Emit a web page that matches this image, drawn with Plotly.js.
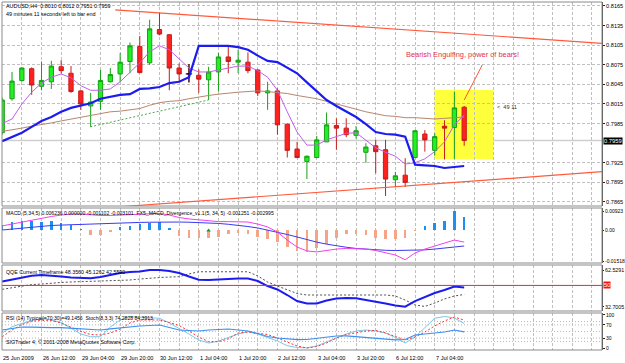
<!DOCTYPE html>
<html><head><meta charset="utf-8">
<script src="https://cdn.plot.ly/plotly-3.0.1.min.js"></script>
<style>html,body{margin:0;padding:0;background:#fff;}#chart{width:625px;height:363px;}</style>
</head><body><div id="chart"></div>
<script>
// ---------- DATA ----------
const openP  = [0.7971,0.8023,0.8051,0.8069,0.8042,0.8049,0.8072,0.8062,0.8035,0.8012,0.8019,0.8049,0.8061,0.8080,0.8103,0.8078,0.8129,0.8121,0.8070,0.8061,0.8059,0.8052,0.8064,0.8087,0.8079,0.8079,0.8067,0.8032,0.8035,0.7984,0.7946,0.7927,0.7933,0.7957,0.7982,0.7978,0.7967,0.7941,0.7951,0.7945,0.7899,0.7906,0.7933,0.7969,0.7944,0.7981,0.7979,0.8010];
const highP  = [0.8025,0.8064,0.8071,0.8071,0.8080,0.8081,0.8082,0.8073,0.8036,0.8032,0.8067,0.8070,0.8093,0.8109,0.8119,0.8144,0.8155,0.8122,0.8077,0.8076,0.8068,0.8072,0.8093,0.8103,0.8098,0.8094,0.8068,0.8049,0.8039,0.7985,0.7957,0.7936,0.7966,0.8002,0.7993,0.7993,0.7981,0.7955,0.7960,0.7960,0.7911,0.7932,0.7975,0.7975,0.7970,0.7990,0.8034,0.8012];
const lowP   = [0.7968,0.8020,0.8049,0.8029,0.8036,0.8038,0.8062,0.8032,0.8006,0.7980,0.8006,0.8048,0.8049,0.8062,0.8062,0.8075,0.8120,0.8036,0.8049,0.8048,0.8032,0.8021,0.8034,0.8062,0.8062,0.8062,0.8027,0.8006,0.7968,0.7933,0.7932,0.7900,0.7933,0.7957,0.7945,0.7964,0.7962,0.7925,0.7909,0.7874,0.7888,0.7888,0.7932,0.7942,0.7936,0.7930,0.7931,0.7951];
const closeP = [0.8021,0.8050,0.8070,0.8044,0.8051,0.8073,0.8066,0.8034,0.8015,0.8018,0.8051,0.8060,0.8079,0.8104,0.8063,0.8130,0.8122,0.8070,0.8061,0.8061,0.8053,0.8064,0.8087,0.8080,0.8082,0.8066,0.8032,0.8035,0.7983,0.7944,0.7933,0.7935,0.7960,0.7983,0.7978,0.7968,0.7974,0.7949,0.7942,0.7900,0.7905,0.7895,0.7974,0.7960,0.7965,0.7978,0.8009,0.7959];

const blueLine  = [0.7958,0.7964,0.7971,0.7980,0.7989,0.7995,0.8003,0.8009,0.8013,0.8016,0.8023,0.8026,0.8029,0.8030,0.8038,0.8039,0.8041,0.8047,0.8049,0.8056,0.8104,0.8104,0.8104,0.8104,0.8102,0.8098,0.8089,0.8081,0.8079,0.8070,0.8062,0.8048,0.8035,0.8021,0.8012,0.8004,0.7995,0.7984,0.7972,0.7969,0.7968,0.7965,0.7922,0.7921,0.7920,0.7917,0.7918,0.7920];
const fastMA    = [0.7985,0.7992,0.8015,0.8033,0.8047,0.8056,0.8061,0.8055,0.8043,0.8036,0.8036,0.8038,0.8049,0.8064,0.8078,0.8095,0.8104,0.8098,0.8084,0.8070,0.8064,0.8064,0.8067,0.8070,0.8073,0.8073,0.8066,0.8056,0.8036,0.8003,0.7972,0.7952,0.7952,0.7960,0.7965,0.7970,0.7971,0.7960,0.7948,0.7941,0.7935,0.7923,0.7925,0.7931,0.7942,0.7957,0.7983,0.7998];
const slowMA    = [0.7973,0.7975,0.7978,0.7981,0.7983,0.7986,0.7989,0.7992,0.7995,0.7998,0.8001,0.8003,0.8004,0.8006,0.8008,0.8013,0.8017,0.8019,0.8020,0.8023,0.8026,0.8028,0.8030,0.8032,0.8033,0.8034,0.8035,0.8034,0.8033,0.8031,0.8028,0.8026,0.8023,0.8019,0.8015,0.8010,0.8006,0.8003,0.8000,0.7997,0.7996,0.7994,0.7994,0.7993,0.7992,0.7993,0.7994,0.7995];

const macdHist   = [0.0025,0.0040,0.0042,0.0045,0.0040,0.0045,0.0035,0.0025,0.0005,-0.0022,-0.0022,-0.0008,0.0015,0.0020,0.0030,0.0035,0.0040,0.0012,-0.0030,-0.0040,-0.0040,-0.0040,-0.0035,-0.0020,-0.0014,-0.0020,-0.0035,-0.0045,-0.0060,-0.0085,-0.0100,-0.0105,-0.0088,-0.0068,-0.0040,-0.0020,-0.0020,-0.0025,-0.0038,-0.0042,-0.0042,-0.0038,-0.0005,0.0018,0.0033,0.0042,0.0092,0.0062];
const macdPink   = [0.0020,0.0029,0.0039,0.0049,0.0059,0.0066,0.0073,0.0078,0.0078,0.0073,0.0071,0.0071,0.0073,0.0076,0.0078,0.0081,0.0081,0.0073,0.0061,0.0054,0.0049,0.0044,0.0041,0.0041,0.0041,0.0039,0.0029,0.0015,-0.0010,-0.0049,-0.0083,-0.0102,-0.0107,-0.0100,-0.0093,-0.0090,-0.0090,-0.0093,-0.0100,-0.0110,-0.0122,-0.0145,-0.0112,-0.0093,-0.0078,-0.0066,-0.0049,-0.0059];
const macdBlue   = [0,0.0005,0.0010,0.0015,0.0020,0.0022,0.0024,0.0026,0.0027,0.0028,0.0029,0.0031,0.0034,0.0036,0.0037,0.0038,0.0039,0.0039,0.0039,0.0038,0.0037,0.0035,0.0032,0.0028,0.0024,0.0017,0.0010,0.0000,-0.0010,-0.0022,-0.0034,-0.0047,-0.0059,-0.0069,-0.0078,-0.0084,-0.0090,-0.0094,-0.0098,-0.0099,-0.0100,-0.0100,-0.0100,-0.0097,-0.0093,-0.0088,-0.0083,-0.0078];
const divergenceBars = [21];
const divergenceVals = [-0.0003];

const qqeFast = [53.2,54.8,56.4,57.8,58.5,58.1,57.2,56.4,55.9,55.8,56.8,58.5,60.1,60.9,61.3,62.5,62.5,61.7,60.1,57.2,54.6,54.4,54.9,55.2,55.6,55.6,53.6,49.5,46.7,42.2,37.3,35.3,35.3,37.7,39.4,39.8,39.6,38.1,36.9,35.3,33.7,32.7,37.3,40.6,43.8,46.3,49.1,48.4];
const qqeSlow = [46.8,47.9,49.5,50.7,51.1,51.9,52.4,52.8,53.0,53.2,53.6,54.0,54.2,54.4,55.2,56.0,56.4,56.8,57.1,59.3,61.1,61.1,61.1,61.1,61.1,61.1,57.7,52.8,49.5,46.3,43.4,42.2,42.2,42.2,42.2,42.2,42.2,42.2,42.2,42.2,41.4,38.1,34.1,32.9,35.7,39.0,41.4,42.6];

const rsiVals = [54.5,59.1,63.6,63.0,61.5,61.5,61.5,59.7,57.6,56.1,54.5,58.2,61.5,63.6,66.7,68.2,69.7,62.1,54.5,53.0,51.5,54.5,56.7,57.6,54.5,51.5,43.9,34.9,30.3,27.3,25.2,25.8,28.8,33.3,36.4,37.0,34.9,31.8,29.4,27.3,24.9,25.8,39.4,42.4,44.5,48.5,54.5,49.1];
const stochK  = [45.5,64.5,74.2,83.3,89.4,84.9,77.3,60.6,42.4,34.2,34.2,63.6,84.9,94.8,93.9,92.4,90.0,75.8,59.7,42.4,24.2,15.2,21.2,31.8,42.4,49.4,42.4,31.8,21.2,7.0,1.5,0.6,6.1,18.2,30.3,42.4,51.5,54.5,51.5,45.5,31.8,15.2,33.3,60.6,90.0,95.5,90.9,74.3];
const stochD  = [34.2,54.5,71.2,80.3,84.9,83.3,75.8,63.6,50.0,40.9,39.4,45.5,57.6,75.8,84.9,84.9,84.9,77.3,68.2,51.5,33.3,19.1,19.1,27.3,45.5,48.5,43.9,40.9,30.3,18.2,6.1,0.0,4.5,15.2,30.3,40.9,47.0,51.5,53.0,45.5,34.9,24.2,33.3,48.5,66.7,81.8,93.9,84.4];

const timeLabels    = ['25 Jun 2009','26 Jun 12:00','29 Jun 04:00','29 Jun 20:00','30 Jun 12:00','1 Jul 04:00','1 Jul 20:00','2 Jul 12:00','3 Jul 04:00','3 Jul 20:00','6 Jul 12:00','7 Jul 04:00'];
const timeLabelBars = [0,4,8,12,16,20,24,28,32,36,40,44];
const priceTicks = [0.8165,0.8135,0.8105,0.8075,0.8045,0.8015,0.7985,0.7925,0.7895,0.7865];
const lastPrice = 0.7959;
const macdTicks = [0.00923,0,-0.01518], macdTickText = ['0.00923','0.00','-0.01518'];
const qqeTicks = [62.5291,32.7005], qqeTickText = ['62.5291','32.7005'];
const rsiTicks = [100,70,30,0];
const rsiLevels = [80,70,50,30,20];

// ---------- LAYOUT HELPERS ----------
const FONT = 'Liberation Sans, Arial, sans-serif';
const PLOT_TOP = 2, PLOT_BOT = 350, PH = PLOT_BOT - PLOT_TOP;
const py = Y => (PLOT_BOT - Y) / PH;   // pixel row -> paper fraction
const dMain = [py(206), 1], dMacd = [py(263), py(208)], dQqe = [py(311), py(265)], dRsi = [0, py(313)];

const xs = openP.map((_, i) => i);
const gridBars = []; for (let b = 0; b <= 60; b += 2) gridBars.push(b);

const traces = [];
traces.push({type:'candlestick', x:xs, open:openP, high:highP, low:lowP, close:closeP, xaxis:'x', yaxis:'y',
  increasing:{line:{color:'#16a016', width:1}, fillcolor:'#22f022'},
  decreasing:{line:{color:'#c81c1c', width:1}, fillcolor:'#ff2020'},
  whiskerwidth:0, hoverinfo:'skip'});
xs.filter(i => openP[i] === closeP[i]).forEach(i => {
  traces.push({type:'scatter', mode:'lines', xaxis:'x', yaxis:'y', hoverinfo:'skip',
    x:[i, i, null, i - 0.32, i + 0.32], y:[lowP[i], highP[i], null, openP[i], closeP[i]],
    line:{color:'#000', width:1}});
});
traces.push({type:'scatter', mode:'lines', x:xs, y:slowMA, xaxis:'x', yaxis:'y', line:{color:'#b8866b', width:1}, hoverinfo:'skip'});
traces.push({type:'scatter', mode:'lines', x:xs, y:fastMA, xaxis:'x', yaxis:'y', line:{color:'#c060e8', width:1}, hoverinfo:'skip'});
traces.push({type:'scatter', mode:'lines', x:xs, y:blueLine, xaxis:'x', yaxis:'y', line:{color:'#1c1cf0', width:2.2}, hoverinfo:'skip'});

traces.push({type:'bar', x:xs, y:macdHist, xaxis:'x', yaxis:'y2', width:0.26,
  marker:{color:macdHist.map(v => v >= 0 ? '#1e8ff0' : '#f6a488'), line:{width:0}}, hoverinfo:'skip'});
traces.push({type:'scatter', mode:'lines', x:xs, y:macdBlue, xaxis:'x', yaxis:'y2', line:{color:'#3a3aee', width:1}, hoverinfo:'skip'});
traces.push({type:'scatter', mode:'lines', x:xs, y:macdPink, xaxis:'x', yaxis:'y2', line:{color:'#f040f0', width:1}, hoverinfo:'skip'});
traces.push({type:'scatter', mode:'markers', x:divergenceBars, y:divergenceVals, xaxis:'x', yaxis:'y2', marker:{symbol:'triangle-up', size:4, color:'#209a20'}, hoverinfo:'skip'});

traces.push({type:'scatter', mode:'lines', x:xs, y:qqeSlow, xaxis:'x', yaxis:'y3', line:{color:'#505050', width:1, dash:'2px,2px'}, hoverinfo:'skip'});
traces.push({type:'scatter', mode:'lines', x:xs, y:qqeFast, xaxis:'x', yaxis:'y3', line:{color:'#1c1cf0', width:2}, hoverinfo:'skip'});

traces.push({type:'scatter', mode:'lines', x:xs, y:stochK, xaxis:'x', yaxis:'y4', line:{color:'#7cc8e8', width:1}, hoverinfo:'skip'});
traces.push({type:'scatter', mode:'lines', x:xs, y:stochD, xaxis:'x', yaxis:'y4', line:{color:'#ff3030', width:1, dash:'2px,2px'}, hoverinfo:'skip'});
traces.push({type:'scatter', mode:'lines', x:xs, y:rsiVals, xaxis:'x', yaxis:'y4', line:{color:'#3a90f0', width:1.2}, hoverinfo:'skip'});

const grid = {showgrid:true, gridcolor:'#c0c0c0', griddash:'3px,2px', gridwidth:1};
const yBase = {side:'right', anchor:'x', zeroline:false, showline:true, linecolor:'#444', linewidth:1,
  ticks:'outside', ticklen:2, tickcolor:'#222', tickfont:{size:5.6, family:FONT, color:'#000'}, fixedrange:true};

const layout = {
  width:625, height:363, margin:{l:2, r:23, t:PLOT_TOP, b:363 - PLOT_BOT},
  paper_bgcolor:'#fff', plot_bgcolor:'#fff', showlegend:false, boxgap:0.38, bargap:0,
  xaxis: Object.assign({domain:[0,1], range:[-0.02, 61.02], anchor:'y4', tickvals:gridBars, showticklabels:false,
    ticks:'', zeroline:false, showline:false, rangeslider:{visible:false}, fixedrange:true}, grid),
  yaxis: Object.assign({}, yBase, grid, {domain:dMain, range:[0.78588, 0.81711], tickvals:priceTicks, ticktext:priceTicks.map(v => v.toFixed(4))}),
  yaxis2: Object.assign({}, yBase, {domain:dMacd, range:[-0.0161, 0.01074], tickvals:macdTicks, ticktext:macdTickText, showgrid:false, ticklen:1, tickfont:{size:5.0, family:FONT, color:'#000'}}),
  yaxis3: Object.assign({}, yBase, {domain:dQqe, range:[29.2, 66.6], tickvals:qqeTicks, ticktext:qqeTickText, showgrid:false, ticklen:1, tickfont:{size:5.3, family:FONT, color:'#000'}}),
  yaxis4: Object.assign({}, yBase, {domain:dRsi, range:[-6, 106], tickvals:rsiTicks, ticktext:rsiTicks.map(String), showgrid:false, tickfont:{size:5.0, family:FONT, color:'#000'}}),
  shapes: [], annotations: []
};

const S = layout.shapes;
S.push({type:'rect', xref:'x', yref:'y', x0:43.96, x1:49.96, y0:0.79308, y1:0.80364, fillcolor:'#ffff3c', line:{width:0}, layer:'below'});
S.push({type:'line', xref:'paper', yref:'y', x0:0, x1:1, y0:lastPrice, y1:lastPrice, line:{color:'#cfcfcf', width:1.5}, layer:'below'});
S.push({type:'line', xref:'x', yref:'y', x0:11.5, y0:0.81589, x1:61.02, y1:0.81079, line:{color:'#ff5a3c', width:1.2}});
S.push({type:'line', xref:'x', yref:'y', x0:12.3, y0:0.78580, x1:61.02, y1:0.79113, line:{color:'#ff5a3c', width:1.2}});
S.push({type:'line', xref:'x', yref:'y', x0:8.96, y0:0.7980, x1:20.97, y1:0.8021, line:{color:'#4aa84a', width:1, dash:'2px,2px'}});
S.push({type:'line', xref:'x', yref:'y', x0:48.84, y0:0.80747, x1:47.0, y1:0.80211, line:{color:'#ff5533', width:1}});
S.push({type:'line', xref:'paper', yref:'y3', x0:0, x1:1, y0:50, y1:50, line:{color:'#ff2020', width:1}});
rsiLevels.forEach(l => S.push({type:'line', xref:'paper', yref:'y4', x0:0, x1:1, y0:l, y1:l, line:{color:'#b8b8b8', width:1, dash:'1px,2px'}, layer:'below'}));
[dMain, dMacd, dQqe, dRsi].forEach(d => S.push({type:'rect', xref:'paper', yref:'paper', x0:0, x1:1, y0:d[0], y1:d[1], line:{color:'#8a8a8a', width:1}, fillcolor:'rgba(0,0,0,0)'}));

const A = layout.annotations;
const txt = (text, x, y, size) => A.push({text, x, y, xref:'paper', yref:'paper', xanchor:'left', yanchor:'middle', showarrow:false,
  font:{family:FONT, size:size, color:'#000'}});
txt('AUDUSD,H4  0.8010 0.8012 0.7951 0.7959', 0.004, py(6), 5.4);
txt('49 minutes 11 seconds left to bar end', 0.004, py(13.5), 5.4);
txt('MACD (5,34,5) 0.006236 0.000000 -0.001102 -0.003101  FX5_MACD_Divergence_v1.1(5, 34, 5) -0.001251 -0.002995', 0.004, py(213), 5.1);
txt('QQE Current Timeframe 48.3560 45.1262 42.5590', 0.004, py(272), 5.3);
txt('RSI (14) Typical(=70:30)=49.1456  Stoch(8,3,3) 74.2828 84.3913', 0.004, py(318), 5.1);
txt('SIGTrader 4, © 2001-2008 MetaQuotes Software Corp.', 0.004, py(342), 5.3);
timeLabels.forEach((t, k) => A.push({text:t, x:timeLabelBars[k], y:py(357.5), xref:'x', yref:'paper', xanchor:'left', yanchor:'middle', xshift:-1, showarrow:false, font:{family:FONT, size:5.6, color:'#000'}}));
A.push({text:'Bearish Engulfing, power of bears!', x:46.8, y:0.8090, xref:'x', yref:'y', showarrow:false, font:{family:FONT, size:7.4, color:'#e0304f'}});
A.push({text:'<  49 11', x:50.1, y:0.8010, xref:'x', yref:'y', xanchor:'left', showarrow:false, font:{family:FONT, size:5.6, color:'#333'}});
A.push({text:lastPrice.toFixed(4), x:1, y:lastPrice, xref:'paper', yref:'y', xanchor:'left', yanchor:'middle', xshift:1, showarrow:false, bgcolor:'#000', borderpad:0, font:{family:FONT, size:5.8, color:'#fff'}});
A.push({text:'50', x:1, y:50, xref:'paper', yref:'y3', xanchor:'left', yanchor:'middle', xshift:1, showarrow:false, bgcolor:'#ff1010', borderpad:0, font:{family:FONT, size:5.8, color:'#fff'}});

Plotly.newPlot('chart', traces, layout, {staticPlot:true, displayModeBar:false});
</script></body></html>
